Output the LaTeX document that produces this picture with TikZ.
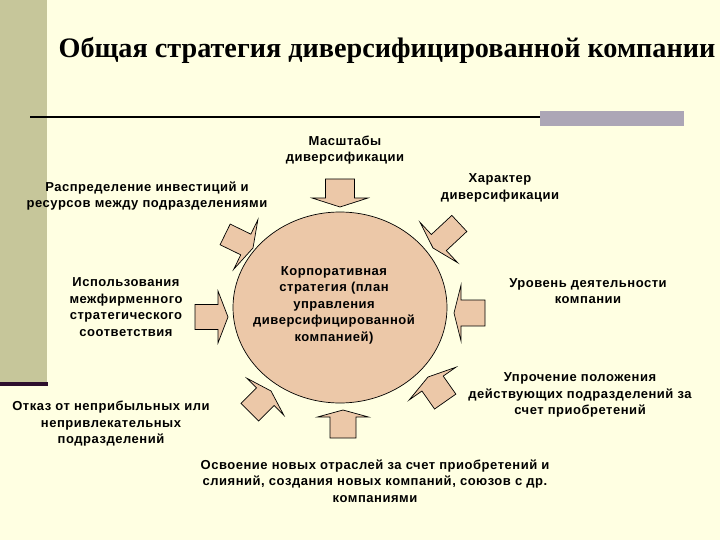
\documentclass[tikz,border=0pt]{standalone}
\usepackage{fontspec}
\setmainfont{Liberation Sans}
\newfontfamily\titlefont{Liberation Serif}
\newfontfamily\labelfont[LetterSpace=4]{Liberation Sans}
\usetikzlibrary{shapes.geometric}
\definecolor{bg}{RGB}{255,255,226}
\definecolor{band}{RGB}{198,198,154}
\definecolor{darkline}{RGB}{45,15,45}
\definecolor{greybox}{RGB}{172,166,182}
\definecolor{tan}{RGB}{236,200,168}
\tikzset{
  lbl/.style={font=\labelfont\bfseries\fontsize{13}{16.5}\selectfont, align=center, inner sep=0pt},
  blk/.style={fill=tan, draw=black, line width=0.7pt, line join=miter},
}
% tip x, tip y, canvas angle, shaft length, shaft width, head width, head length
\newcommand{\blockarr}[7]{%
  \begin{scope}[shift={(#1,#2)}, rotate=#3]
    \draw[blk] (0,0) -- (-#7,#6/2) -- (-#7,#5/2) -- ({-#7-#4},#5/2) -- ({-#7-#4},-#5/2) -- (-#7,-#5/2) -- (-#7,-#6/2) -- cycle;
  \end{scope}}
\begin{document}
\begin{tikzpicture}[x=1pt,y=-1pt]
  \fill[bg] (0,0) rectangle (720,540);
  \useasboundingbox (0,0) rectangle (720,540);
  \fill[band] (0,0) rectangle (47,382);
  \fill[darkline] (0,382) rectangle (48,386);
  \draw[black, line width=2pt] (30,117) -- (545,117);
  \fill[greybox] (540,111) rectangle (684,126);
  \node[font=\titlefont\bfseries\fontsize{28.2}{32}\selectfont, inner sep=0pt] (title) at (387,50) {Общая стратегия диверсифицированной компании};

  \node[ellipse, fill=tan, draw=black, line width=0.7pt, minimum width=214pt, minimum height=191pt, inner sep=0pt] (core) at (340,307.5) {};
  \node[lbl] (corelbl) at (334,305) {Корпоративная\\стратегия (план\\управления\\диверсифицированной\\компанией)};

  \blockarr{340}{207}{-90}{19}{29}{56}{9}
  \blockarr{343}{410}{90}{21}{26}{51}{7}
  \blockarr{228}{317}{0}{23}{25}{52}{10}
  \blockarr{454}{313}{180}{24}{26}{56}{7}
  \blockarr{253}{248}{-26}{23}{23}{55}{8}
  \blockarr{433}{248}{-137}{28}{22}{55}{8}
  \blockarr{271}{391}{45}{22}{25}{52}{8}
  \blockarr{428}{377}{125}{22}{26}{57}{8}

  \node[lbl] (l1) at (345,150) {Масштабы\\диверсификации};
  \node[lbl] (l2) at (500,188) {Характер\\диверсификации};
  \node[lbl] (l3) at (147,196) {Распределение инвестиций и\\ресурсов между подразделениями};
  \node[lbl] (l4) at (126,307) {Использования\\межфирменного\\стратегического\\соответствия};
  \node[lbl] (l5) at (588,291) {Уровень деятельности\\компании};
  \node[lbl] (l6) at (580,395) {Упрочение положения\\действующих подразделений за\\счет приобретений};
  \node[lbl] (l7) at (111,424) {Отказ от неприбыльных или\\непривлекательных\\подразделений};
  \node[lbl] (l8) at (375,481) {Освоение новых отраслей за счет приобретений и\\слияний, создания новых компаний, союзов с др.\\компаниями};
\end{tikzpicture}
\end{document}
